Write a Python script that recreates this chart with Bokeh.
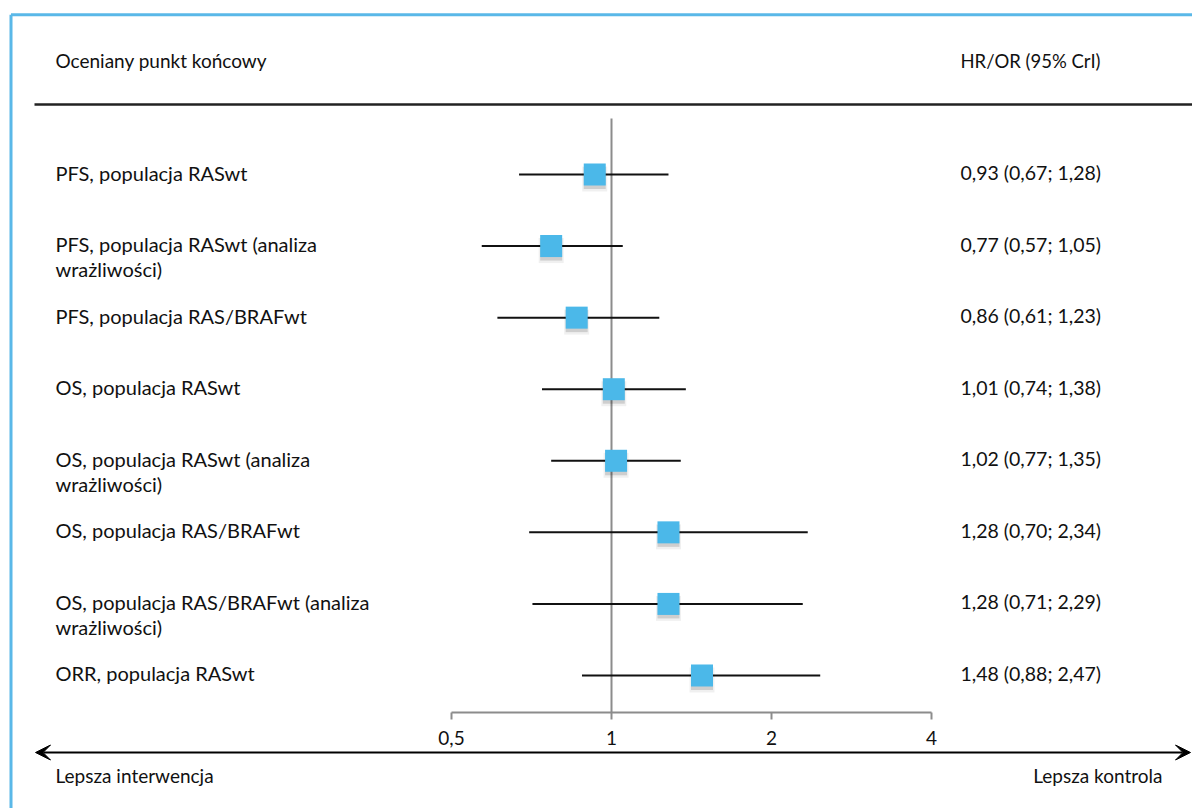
import numpy as np
from bokeh.plotting import figure
from bokeh.models import Range1d, ColumnDataSource, Arrow, VeeHead
from bokeh.core.properties import value
from bokeh.embed import file_html
from bokeh.resources import INLINE

# ---------------- data ----------------
labels = [
    "PFS, populacja RASwt",
    "PFS, populacja RASwt (analiza\nwrażliwości)",
    "PFS, populacja RAS/BRAFwt",
    "OS, populacja RASwt",
    "OS, populacja RASwt (analiza\nwrażliwości)",
    "OS, populacja RAS/BRAFwt",
    "OS, populacja RAS/BRAFwt (analiza\nwrażliwości)",
    "ORR, populacja RASwt",
]
estimate = [0.93, 0.77, 0.86, 1.01, 1.02, 1.28, 1.28, 1.48]
lower = [0.67, 0.57, 0.61, 0.74, 0.77, 0.70, 0.71, 0.88]
upper = [1.28, 1.05, 1.23, 1.38, 1.35, 2.34, 2.29, 2.47]
tick_values = [0.5, 1, 2, 4]
tick_labels = ["0,5", "1", "2", "4"]
header_left = "Oceniany punkt końcowy"
header_right = "HR/OR (95% CrI)"
arrow_left = "Lepsza interwencja"
arrow_right = "Lepsza kontrola"

# ---------------- layout helpers ----------------
W, H = 1192, 808
X_ONE = 611.0      # pixel of value 1 inside the figure
PX_PER_DOUBLING = 160.0
ROW0 = 174.0       # pixel of first row inside the figure
STEP = 71.57
TXT_SHIFT = -2.0   # vertical text adjustment in pixels


def dx(px):
    """figure pixel -> data x (log scale)"""
    return 2 ** ((px - X_ONE) / PX_PER_DOUBLING)


def dy(py):
    """figure pixel -> data y (row units)"""
    return (py - ROW0) / STEP


FONT = value("Lato")
TXT = "#111111"

n = len(labels)
rows = np.arange(n)

p = figure(
    width=W, height=H, x_axis_type="log",
    x_range=Range1d(dx(0), dx(W)), y_range=Range1d(dy(H), dy(0)),
    x_axis_location=None, y_axis_location=None,
    toolbar_location=None, output_backend="svg", min_border=0,
)
p.outline_line_color = None
p.xgrid.visible = False
p.ygrid.visible = False
p.background_fill_color = "white"
p.border_fill_color = "white"

# light blue frame (left and top)
p.segment(x0=[dx(10.5), dx(10.5)], y0=[dy(14.3), dy(14.3)], x1=[dx(10.5), dx(W)], y1=[dy(H), dy(14.3)],
          line_color="#5AB8E8", line_width=3)

# header texts and rule
p.text(x=[dx(55)], y=[dy(62 + TXT_SHIFT)], text=[header_left], text_font=FONT, text_font_size="19px",
       text_color=TXT, text_baseline="middle", text_align="left")
p.text(x=[dx(960)], y=[dy(62 + TXT_SHIFT)], text=[header_right], text_font=FONT, text_font_size="18.5px",
       text_color=TXT, text_baseline="middle", text_align="left")
p.segment(x0=[dx(34)], y0=[dy(104)], x1=[dx(W)], y1=[dy(104)], line_color="#222222", line_width=2.5)

# reference line at 1
p.segment(x0=[1], y0=[dy(118)], x1=[1], y1=[dy(712)], line_color="#8c8c8c", line_width=2)

# axis
ax_y = dy(712)
p.segment(x0=[tick_values[0]], y0=[ax_y], x1=[tick_values[-1]], y1=[ax_y], line_color="#8c8c8c", line_width=2)
p.segment(x0=tick_values, y0=[ax_y] * len(tick_values), x1=tick_values, y1=[dy(719)] * len(tick_values),
          line_color="#8c8c8c", line_width=2)
p.text(x=tick_values, y=[dy(739 + TXT_SHIFT)] * len(tick_values), text=tick_labels, text_font=FONT,
       text_font_size="19px", text_color=TXT, text_align="center", text_baseline="middle")

# arrow
head = dict(size=15, fill_color="black", line_color="black", line_width=1)
p.add_layout(Arrow(start=VeeHead(**head), end=VeeHead(**head),
                   x_start=dx(35), y_start=dy(752), x_end=dx(1190), y_end=dy(752),
                   line_color="black", line_width=2))
p.text(x=[dx(55)], y=[dy(777 + TXT_SHIFT)], text=[arrow_left], text_font=FONT, text_font_size="19px",
       text_color=TXT, text_baseline="middle", text_align="left")
p.text(x=[dx(1162)], y=[dy(777 + TXT_SHIFT)], text=[arrow_right], text_font=FONT, text_font_size="19px",
       text_color=TXT, text_baseline="middle", text_align="right")

# CI lines
src = ColumnDataSource(dict(y=rows, est=estimate, lo=lower, hi=upper))
p.segment(x0="lo", y0="y", x1="hi", y1="y", source=src, line_color="#111111", line_width=2)

# shadows and squares
shadow1 = ColumnDataSource(dict(y=rows + 3.5 / STEP, est=estimate))
shadow2 = ColumnDataSource(dict(y=rows + 4.5 / STEP, est=estimate))
p.scatter(x="est", y="y", source=shadow2, marker="square", size=25, fill_color="black",
          fill_alpha=0.06, line_color=None)
p.scatter(x="est", y="y", source=shadow1, marker="square", size=22, fill_color="black",
          fill_alpha=0.14, line_color=None)
p.scatter(x="est", y="y", source=src, marker="square", size=22, fill_color="#4BB8E9",
          line_color=None)

# row labels (split multi-line)
lx, ly, lt = [], [], []
for i, lab in enumerate(labels):
    for j, part in enumerate(lab.split("\n")):
        lx.append(dx(55))
        ly.append(i + (j * 25.0 + TXT_SHIFT) / STEP)
        lt.append(part)
p.text(x=lx, y=ly, text=lt, text_font=FONT, text_font_size="20px", text_color=TXT,
       text_baseline="middle", text_align="left")

# value labels
vals = [f"{e:.2f} ({l:.2f}; {h:.2f})".replace(".", ",") for e, l, h in zip(estimate, lower, upper)]
p.text(x=[dx(960)] * n, y=rows + TXT_SHIFT / STEP, text=vals, text_font=FONT, text_font_size="19.5px",
       text_color=TXT, text_baseline="middle", text_align="left")

open("out.html", "w").write(file_html(p, INLINE))
